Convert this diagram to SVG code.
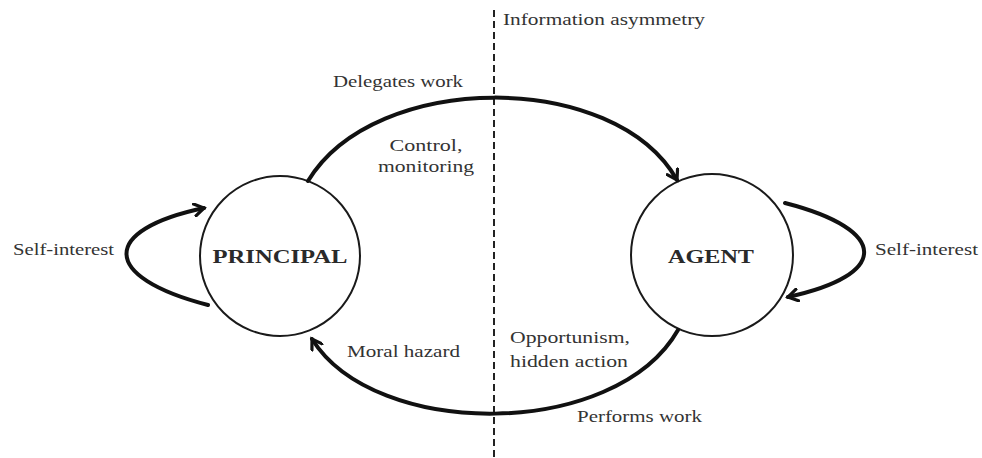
<svg xmlns="http://www.w3.org/2000/svg" width="982" height="458" viewBox="0 0 982 458">
<style>
text{font-family:"Liberation Serif","Times New Roman",serif;fill:#333;font-size:17px}
.node{fill:#fff;stroke:#1a1a1a;stroke-width:2}
.nl{font-weight:bold;font-size:19px;fill:#2a2a2a}
.arc{fill:none;stroke:#111;stroke-width:4;stroke-linecap:round}
.dash{stroke:#222;stroke-width:2;stroke-dasharray:7 4}
</style>
<defs>
<marker id="ah" viewBox="0 0 14 14" refX="11" refY="7" markerWidth="14" markerHeight="14" markerUnits="userSpaceOnUse" orient="auto">
<path d="M1.5,1 L11,7 L1.5,13" fill="none" stroke="#111" stroke-width="3.2" stroke-linecap="round" stroke-linejoin="miter"/>
</marker>
</defs>
<rect width="982" height="458" fill="#fff"/>
<line class="dash" x1="494" y1="10" x2="494" y2="458"/>
<text x="503" y="25" textLength="202" lengthAdjust="spacingAndGlyphs">Information asymmetry</text>
<g id="principal">
<circle class="node" cx="280" cy="256" r="80"/>
<text class="nl" x="280" y="263" text-anchor="middle" textLength="135" lengthAdjust="spacingAndGlyphs">PRINCIPAL</text>
</g>
<g id="agent">
<circle class="node" cx="712" cy="255" r="81"/>
<text class="nl" x="711" y="263" text-anchor="middle" textLength="86" lengthAdjust="spacingAndGlyphs">AGENT</text>
</g>
<g id="connectors">
<path class="arc" d="M308,181 C375,70 615,70 677,180" marker-end="url(#ah)"/>
<path class="arc" d="M678,330 C615,440 375,440 312,339" marker-end="url(#ah)"/>
<path class="arc" d="M208,305 C100,277 100,230 204,208" marker-end="url(#ah)"/>
<path class="arc" d="M785,203 C890,230 890,275 788,297" marker-end="url(#ah)"/>
</g>
<g id="labels">
<text x="13" y="255" textLength="101" lengthAdjust="spacingAndGlyphs">Self-interest</text>
<text x="875" y="255" textLength="103" lengthAdjust="spacingAndGlyphs">Self-interest</text>
<text x="333" y="87" textLength="130" lengthAdjust="spacingAndGlyphs">Delegates work</text>
<text x="426" y="151" text-anchor="middle" textLength="73" lengthAdjust="spacingAndGlyphs">Control,</text>
<text x="426" y="172" text-anchor="middle" textLength="96" lengthAdjust="spacingAndGlyphs">monitoring</text>
<text x="347" y="357" textLength="113" lengthAdjust="spacingAndGlyphs">Moral hazard</text>
<text x="510" y="343" textLength="120" lengthAdjust="spacingAndGlyphs">Opportunism,</text>
<text x="510" y="367" textLength="118" lengthAdjust="spacingAndGlyphs">hidden action</text>
<text x="577" y="422" textLength="125" lengthAdjust="spacingAndGlyphs">Performs work</text>
</g>
</svg>
